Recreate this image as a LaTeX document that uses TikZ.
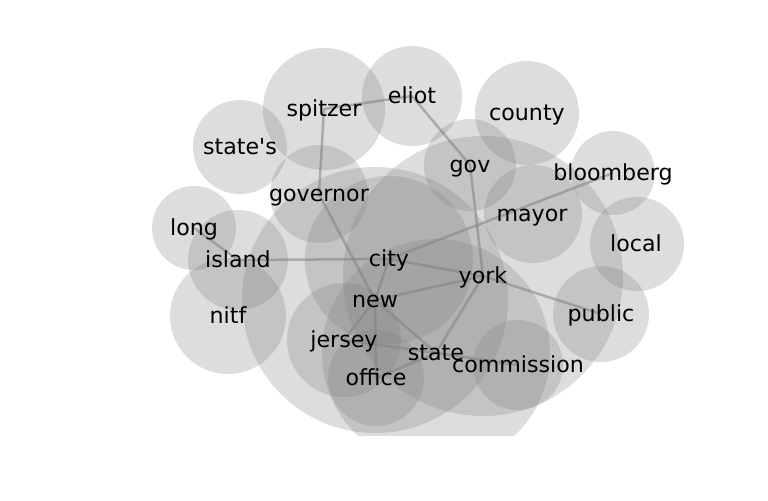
\documentclass[tikz,border=0pt]{standalone}
\usepackage{fontspec}
\setmainfont{DejaVu Sans}
\usetikzlibrary{backgrounds}
\tikzset{
  bubble/.style={fill=gray,fill opacity=0.27},
  link/.style={draw=gray,draw opacity=0.55,line width=1.8bp},
  word/.style={font=\fontsize{16}{19}\selectfont,inner sep=0pt,text height=1.3em,text depth=0.16em}
}
\begin{document}
\begin{tikzpicture}[x=0.01in,y=-0.01in]
\useasboundingbox (0,0) rectangle (768,500);
% words
\foreach \kx/\ky/\kn/\klb in {324/109/spitzer/spitzer,412/96/eliot/eliot,240/147/states/{state\textquotesingle s},319/194/governor/governor,194/228/long/long,238/260/island/island,228/316/nitf/nitf,389/259/city/city,375/300/new/new,344/340/jersey/jersey,376/378/office/office,436/353/state/state,518/365/commission/commission,483/276/york/york,470/165/gov/gov,527/113/county/county,613/173/bloomberg/bloomberg,532/214/mayor/mayor,636/244/local/local,601/314/public/public}{\node[word](\kn) at (\kx,\ky){\klb};}
\begin{pgfonlayer}{background}
\begin{scope}
\clip (0,0) rectangle (768,435);
\foreach \kx/\ky/\kr in {324/109/61,412/96/50,240/147/47,319/194/49,194/228/42,238/260/50,228/316/58,389/260/84,375/300/133,344/340/57,376/378/48,436/353/114,518/365/45,483/276/140,470/165/46,527/113/52,613/173/42,533/214/49,637/244/47,601/314/48}{\fill[bubble](\kx,\ky) circle[radius=\kr];}
\end{scope}
% links
\foreach \ka/\kb in {spitzer/eliot,spitzer/governor,eliot/gov,gov/york,governor/new,long/island,island/city,city/bloomberg,city/york,city/new,new/york,new/jersey,new/office,new/state,jersey/state,state/commission,office/state,state/york,york/public}{\draw[link](\ka.center)--(\kb.center);}
\end{pgfonlayer}
\end{tikzpicture}
\end{document}
